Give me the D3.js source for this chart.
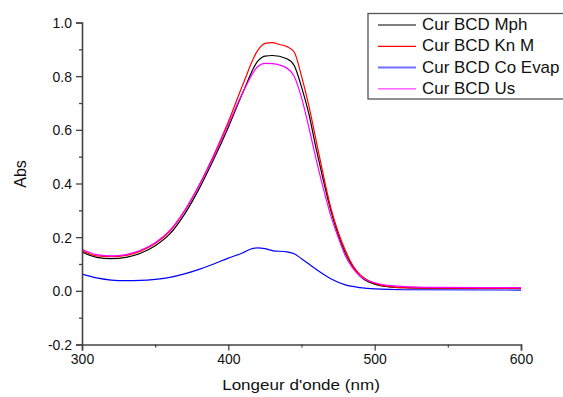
<!DOCTYPE html>
<html>
<head>
<meta charset="utf-8">
<script src="https://cdnjs.cloudflare.com/ajax/libs/d3/7.8.5/d3.min.js"></script>
<style>
  body { margin: 0; background: #fff; }
  svg { display: block; font-family: "Liberation Sans", Arial, sans-serif; }
</style>
</head>
<body>
<div id="content" style="width:563px;height:397px;"></div>
<script>
var width = 563, height = 397;

// wavelengths (nm) and absorbance for each sample
var wlMph = [300,310,320,330,340,350,360,370,380,390,400,410,420,425,430,440,445,450,455,460,465,470,475,480,485,490,500,510,520,540,600];
var absMph = [0.145,0.125,0.12,0.125,0.14,0.168,0.212,0.285,0.38,0.49,0.61,0.74,0.855,0.875,0.877,0.865,0.84,0.76,0.66,0.53,0.41,0.30,0.21,0.14,0.09,0.055,0.025,0.015,0.012,0.01,0.009];

var wlKn = [300,310,320,330,340,350,360,370,380,390,400,410,420,425,430,435,440,445,450,455,460,465,470,475,480,485,490,500,510,520,540,600];
var absKn = [0.15,0.13,0.127,0.132,0.148,0.176,0.222,0.297,0.393,0.505,0.63,0.77,0.895,0.922,0.925,0.918,0.91,0.89,0.8,0.69,0.56,0.43,0.31,0.22,0.15,0.095,0.06,0.028,0.016,0.012,0.01,0.009];

var wlCo = [300,310,320,330,340,350,360,370,380,390,400,410,415,420,425,430,440,445,450,460,470,480,490,500,520,600];
var absCo = [0.062,0.048,0.04,0.038,0.039,0.043,0.05,0.063,0.08,0.1,0.122,0.142,0.155,0.16,0.157,0.15,0.145,0.138,0.12,0.08,0.045,0.022,0.012,0.007,0.004,0.003];

var wlUs = [300,310,320,330,340,350,360,370,380,390,400,410,420,425,430,440,445,450,455,460,465,470,475,480,485,490,500,510,520,540,600];
var absUs = [0.155,0.135,0.13,0.135,0.151,0.179,0.225,0.298,0.392,0.5,0.62,0.74,0.835,0.848,0.847,0.83,0.8,0.72,0.61,0.49,0.38,0.28,0.2,0.13,0.085,0.055,0.03,0.02,0.016,0.013,0.012];

var seriesNames = ['Cur BCD Mph', 'Cur BCD Kn M', 'Cur BCD Co Evap', 'Cur BCD Us'];
var seriesColors = ['#000000', '#ff0000', '#0000ff', '#ff00ff'];
var legendColors = ['#000000', '#ff0000', '#7070ff', '#ff40ff'];
var xTicks = [300, 400, 500, 600];
var xMinor = [350, 450, 550];
var yTicks = [-0.2, 0, 0.2, 0.4, 0.6, 0.8, 1.0];
var yMinor = [-0.1, 0.1, 0.3, 0.5, 0.7, 0.9];

var series = [
  {x: wlMph, y: absMph},
  {x: wlKn, y: absKn},
  {x: wlCo, y: absCo},
  {x: wlUs, y: absUs}
];

var svg = d3.select('#content').append('svg')
  .attr('width', width)
  .attr('height', height);

var x = d3.scaleLinear().domain([300, 600]).range([82, 521]);
var y = d3.scaleLinear().domain([-0.2, 1.0]).range([344.5, 22.5]);

var line = d3.line()
  .x(function(d){ return x(d[0]); })
  .y(function(d){ return y(d[1]); })
  .curve(d3.curveMonotoneX);

series.forEach(function(s, i){
  svg.append('path')
    .attr('d', line(d3.zip(s.x, s.y)))
    .attr('fill', 'none')
    .attr('stroke', seriesColors[i])
    .attr('stroke-width', 1.2);
});

// axes
var axisColor = '#444';
var fmtY = function(d){ return d3.format('.1f')(d).replace('\u2212', '-'); };
var xAxis = svg.append('g')
  .attr('transform', 'translate(0,' + y(-0.2) + ')')
  .call(d3.axisBottom(x).tickValues(xTicks).tickFormat(d3.format('d')).tickSize(6).tickPadding(4));
svg.append('g')
  .attr('transform', 'translate(0,' + y(-0.2) + ')')
  .call(d3.axisBottom(x).tickValues(xMinor).tickFormat('').tickSize(3))
  .select('.domain').remove();

var yAxis = svg.append('g')
  .attr('transform', 'translate(' + x(300) + ',0)')
  .call(d3.axisLeft(y).tickValues(yTicks).tickFormat(fmtY).tickSize(6).tickPadding(4));
svg.append('g')
  .attr('transform', 'translate(' + x(300) + ',0)')
  .call(d3.axisLeft(y).tickValues(yMinor).tickFormat('').tickSize(3))
  .select('.domain').remove();

svg.selectAll('.domain').attr('stroke', axisColor).attr('stroke-width', 1.6);
svg.selectAll('.tick line').attr('stroke', axisColor).attr('stroke-width', 1.3);
svg.selectAll('.tick text')
  .attr('fill', '#111')
  .style('font-size', '14px')
  .style('font-family', '"Liberation Sans", Arial, sans-serif');
yAxis.selectAll('.tick text').attr('dy', '0.36em');

// axis titles (text in the original is a bit stretched horizontally)
svg.append('text')
  .attr('transform', 'translate(301,390) scale(1.1,1)')
  .attr('text-anchor', 'middle')
  .style('font-size', '15.5px')
  .attr('fill', '#111')
  .text("Longeur d'onde (nm)");

svg.append('text')
  .attr('transform', 'translate(26,174) rotate(-90)')
  .attr('text-anchor', 'middle')
  .style('font-size', '16px')
  .attr('fill', '#111')
  .text('Abs');

// legend
var legend = svg.append('g');
legend.append('rect')
  .attr('x', 368)
  .attr('y', 13.5)
  .attr('width', 210)
  .attr('height', 85.5)
  .attr('fill', '#fff')
  .attr('stroke', '#555')
  .attr('stroke-width', 1.3);

seriesNames.forEach(function(name, i){
  var ly = 25 + i * 21.3;
  legend.append('line')
    .attr('x1', 378).attr('x2', 416)
    .attr('y1', ly).attr('y2', ly)
    .attr('stroke', legendColors[i])
    .attr('stroke-width', i === 2 ? 2 : 1.2);
  legend.append('text')
    .attr('transform', 'translate(422,' + (ly + 5) + ') scale(1.06,1)')
    .style('font-size', '16px')
    .attr('fill', '#111')
    .text(name);
});
</script>
</body>
</html>
